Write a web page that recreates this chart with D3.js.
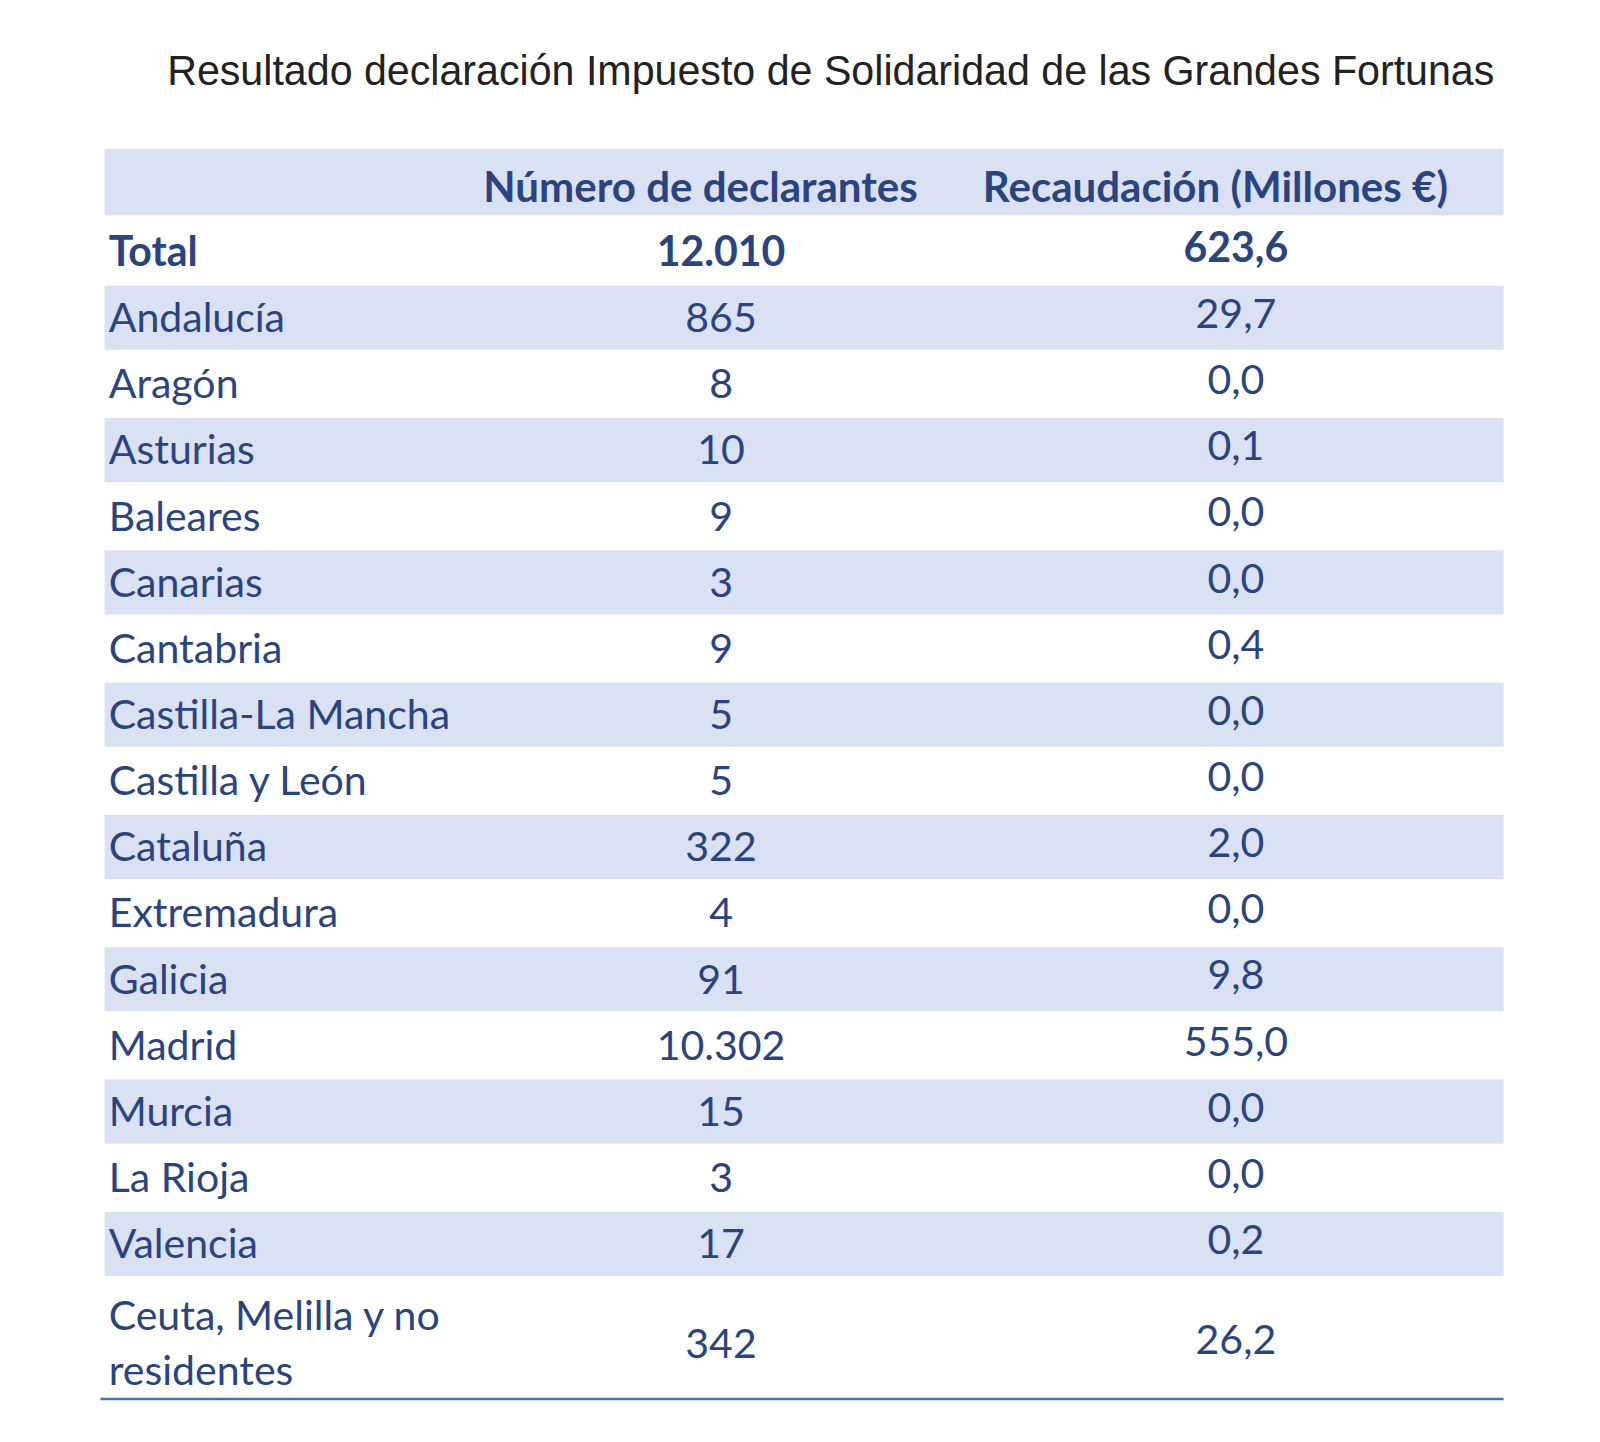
<!DOCTYPE html>
<html><head><meta charset="utf-8">
<script src="https://cdn.jsdelivr.net/npm/d3@7"></script>
<style>body{margin:0;background:#fff}</style>
</head><body>
<script>
var regions = ["Total","Andalucía","Aragón","Asturias","Baleares","Canarias","Cantabria","Castilla-La Mancha","Castilla y León","Cataluña","Extremadura","Galicia","Madrid","Murcia","La Rioja","Valencia","Ceuta, Melilla y no residentes"];
var declarantes = ["12.010","865","8","10","9","3","9","5","5","322","4","91","10.302","15","3","17","342"];
var recaudacion = ["623,6","29,7","0,0","0,1","0,0","0,0","0,4","0,0","0,0","2,0","0,0","9,8","555,0","0,0","0,0","0,2","26,2"];
var headers = ["Número de declarantes","Recaudación (Millones €)"];

var W = 1600, H = 1442;
var svg0 = d3.select("body").append("svg").attr("width", W).attr("height", H);
var svg = svg0.append("g").attr("transform", "scale(" + (1600 / 1560) + ")");
var font = "Lato, 'Open Sans', sans-serif";
var ink = "#2a4482";
var band = "#d9e1f2";
var fs = 40;

svg.append("text").attr("x", 163).attr("y", 83)
  .attr("font-family", "'Liberation Sans Narrow', 'Liberation Sans', Arial, sans-serif")
  .attr("font-size", 42).attr("fill", "#222")
  .attr("textLength", 1294).attr("lengthAdjust", "spacingAndGlyphs")
  .text("Resultado declaración Impuesto de Solidaridad de las Grandes Fortunas");

var rowTop = 212, rowH = 64.5;
var y = d3.scaleBand().domain(d3.range(regions.length - 1)).range([rowTop, rowTop + rowH * (regions.length - 1)]).padding(0);
var lastTop = rowTop + rowH * (regions.length - 1), lastBottom = 1362;
var x0 = 102, x1 = 1466;
var colX = [703, 1205];
var headX = [683, 1185];

svg.append("rect").attr("x", x0).attr("y", 145).attr("width", x1 - x0).attr("height", 65).attr("fill", band);
svg.selectAll(".hd").data(headers).enter().append("text")
  .attr("x", function(d, i) { return headX[i]; })
  .attr("y", 197).attr("text-anchor", "middle")
  .attr("font-family", font).attr("font-weight", "bold").attr("font-size", 41).attr("fill", ink)
  .text(function(d) { return d; });

var rows = svg.selectAll(".row").data(regions).enter().append("g");

function midY(i) { return i < regions.length - 1 ? y(i) + y.bandwidth() / 2 : (lastTop + lastBottom) / 2; }

rows.each(function(d, i) {
  var g = d3.select(this);
  if (i % 2 === 1 && i < regions.length - 1) {
    g.append("rect").attr("x", x0).attr("width", x1 - x0)
      .attr("y", y(i) + 2).attr("height", y.bandwidth() - 2).attr("fill", band);
  }
  var bold = i === 0 ? "bold" : "normal";
  var cy = midY(i) + 15;
  if (i === regions.length - 1) {
    g.append("text").attr("x", 106).attr("y", 1297).attr("font-family", font).attr("font-size", fs).attr("fill", ink).text("Ceuta, Melilla y no");
    g.append("text").attr("x", 106).attr("y", 1350).attr("font-family", font).attr("font-size", fs).attr("fill", ink).text("residentes");
    cy = 1324;
  } else {
    g.append("text").attr("x", 106).attr("y", cy).attr("font-family", font).attr("font-weight", bold)
      .attr("font-size", fs).attr("fill", ink).text(d);
  }
  g.append("text").attr("x", colX[0]).attr("y", cy).attr("text-anchor", "middle").attr("font-family", font)
    .attr("font-weight", bold).attr("font-size", fs).attr("fill", ink).text(declarantes[i]);
  g.append("text").attr("x", colX[1]).attr("y", cy - 4).attr("text-anchor", "middle").attr("font-family", font)
    .attr("font-weight", bold).attr("font-size", fs).attr("fill", ink).text(recaudacion[i]);
});

svg.append("line").attr("x1", 98).attr("x2", x1).attr("y1", 1364).attr("y2", 1364)
  .attr("stroke", "#4a6fb5").attr("stroke-width", 2.5);
</script>
</body></html>
